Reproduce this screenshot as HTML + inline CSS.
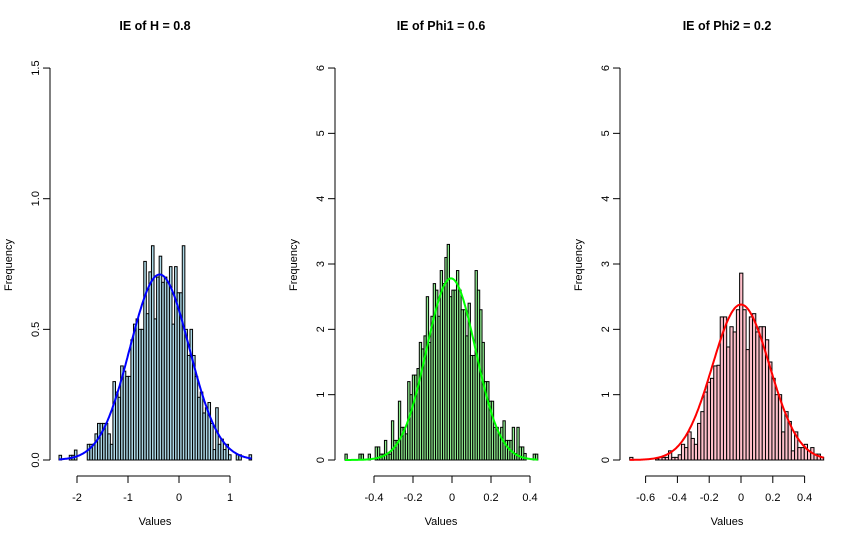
<!DOCTYPE html>
<html><head><meta charset="utf-8"><style>
body{margin:0;background:#fff;width:857px;height:541px;overflow:hidden}
svg{font-family:"Liberation Sans",Arial,sans-serif}
</style></head><body>
<svg id="chart" width="857" height="541"></svg>
<script>
// Panel 1: IE of H
const p1Values=[0.018,0,0,0,0.018,0.018,0.038,0,0,0,0,0.06,0.06,0.06,0.1,0.14,0.14,0.14,0.14,0.1,0.06,0.3,0.26,0.24,0.36,0.34,0.32,0.32,0.46,0.52,0.54,0.5,0.5,0.76,0.56,0.72,0.82,
0.54,0.7,0.78,0.68,0.7,0.68,0.74,0.52,0.74,0.64,0.64,0.82,0.5,0.4,0.5,0.4,0.32,0.24,0.26,0.18,0.2,0.22,0.14,0.04,0.2,0.06,0.08,0.04,0.06,0.02,0,0,0.02,0.02,0,0,0,0.02];
const p1Range=[-2.353,1.424];
const p1Curve=[-0.38,0.58,0.71];
const p1XTicks=[-2,-1,0,1];
const p1YTicks=[0,0.5,1.0,1.5];
const p1YLabels=["0.0","0.5","1.0","1.5"];
// Panel 2: IE of Phi1
const p2Values=[0.09,0,0,0,0,0,0.09,0.09,0,0,0.09,0,0,0.2,0.2,0.09,0.09,0.3,0.09,0.09,0.6,0.3,0.3,0.9,0.5,0.5,0.4,1.2,1.0,1.3,1.3,1.4,1.8,1.7,1.9,2.5,1.8,2.2,2.7,2.6,2.2,2.9,2.7,3.1,3.3,2.5,2.6,2.6,2.9,2.6,2.3,2.3,1.9,2.4,1.6,1.6,2.9,2.6,2.3,1.8,1.2,1.2,0.9,0.9,0.5,0.5,0.4,0.5,0.6,0.3,0.3,0.3,0.5,0.1,0.5,0.2,0.2,0.1,0,0,0,0.09,0.09];
const p2Range=[-0.549,0.44];
const p2Curve=[-0.005,0.126,2.78];
const p2XTicks=[-0.4,-0.2,0,0.2,0.4];
const p2YTicks=[0,1,2,3,4,5,6];
// Panel 3: IE of Phi2
const p3Values=[0.04,0,0,0,0,0,0,0,0.02,0.04,0.04,0.04,0.14,0.04,0.04,0.08,0.24,0.19,0.43,0.33,0.24,0.56,0.74,1.04,1.19,1.25,1.44,1.45,2.19,2.19,1.73,2.04,1.96,2.3,2.86,2.3,1.69,2.19,2.24,1.96,2.04,2.04,1.84,1.5,1.25,1.0,1.0,0.43,0.74,0.59,0.14,0.43,0.19,0.19,0.24,0.14,0.19,0.09,0.09,0.04];
const p3Range=[-0.70,0.52];
const p3Curve=[0.0,0.18,2.38];
const p3XTicks=[-0.6,-0.4,-0.2,0,0.2,0.4];
const p3YTicks=[0,1,2,3,4,5,6];

const NS="http://www.w3.org/2000/svg";
const svg=document.getElementById('chart');
function mk(t,a,p){const e=document.createElementNS(NS,t);for(const k in a)e.setAttribute(k,a[k]);(p||svg).appendChild(e);return e;}

function panel(cfg){
  const g=mk('g',{});
  
  
  const X=v=>cfg.x0+(v-cfg.xv0)*cfg.xs;
  const Y=v=>460-v*cfg.ys;
  const t=mk('text',{x:cfg.tx,y:30,'text-anchor':'middle','font-size':'12.5','font-weight':'bold'},g);
  t.textContent=cfg.title;
  
  
  const n=cfg.values.length, w=(cfg.range[1]-cfg.range[0])/n;
  const bars=mk('g',{},g);
  
  
  cfg.values.forEach((v,i)=>{
    const a=X(cfg.range[0]+i*w), b=X(cfg.range[0]+(i+1)*w);
    const r=mk('rect',{x:a,y:Y(v),width:b-a,height:v*cfg.ys,fill:cfg.fill,stroke:'#000','stroke-width':1},bars);
    
    
  });
  let d='';
  const [m,s,pk]=cfg.curve;
  for(let k=0;k<=200;k++){const xv=cfg.range[0]+(cfg.range[1]-cfg.range[0])*k/200;const yv=pk*Math.exp(-(xv-m)*(xv-m)/(2*s*s));d+=(k?'L':'M')+X(xv).toFixed(1)+' '+Y(yv).toFixed(1);}
  const c=mk('path',{d:d,fill:'none',stroke:cfg.line,'stroke-width':2},g);
  
  
  const ya=mk('g',{},g);
  
  
  const yt=cfg.yticks;
  mk('line',{x1:cfg.ax,x2:cfg.ax,y1:Y(yt[0]),y2:Y(yt[yt.length-1]),stroke:'#000'},ya);
  yt.forEach((v,i)=>{
    mk('line',{x1:cfg.ax-7,x2:cfg.ax,y1:Y(v),y2:Y(v),stroke:'#000'},ya);
    const l=mk('text',{x:0,y:0,'font-size':'11','text-anchor':'middle',transform:`translate(${cfg.ax-11},${Y(v)}) rotate(-90)`},ya);
    l.textContent=cfg.ylabels?cfg.ylabels[i]:String(v);
    
    
  });
  const yl=mk('text',{x:0,y:0,'font-size':'11','text-anchor':'middle',transform:`translate(${cfg.ax-38},265) rotate(-90)`},g);
  yl.textContent='Frequency';
  
  
  const xa=mk('g',{},g);
  
  
  const xt=cfg.xticks;
  mk('line',{x1:X(xt[0]),x2:X(xt[xt.length-1]),y1:476,y2:476,stroke:'#000'},xa);
  xt.forEach(v=>{
    mk('line',{x1:X(v),x2:X(v),y1:476,y2:483,stroke:'#000'},xa);
    const l=mk('text',{x:X(v),y:501,'font-size':'11','text-anchor':'middle'},xa);
    l.textContent=String(v);
    
    
  });
  const xl=mk('text',{x:cfg.tx,y:525,'font-size':'11','text-anchor':'middle'},g);
  xl.textContent='Values';
  
  
}
panel({name:'panel-h',title:'IE of H = 0.8',tx:155,ax:50,x0:179,xv0:0,xs:51,ys:261.3,values:p1Values,range:p1Range,curve:p1Curve,xticks:p1XTicks,yticks:p1YTicks,ylabels:p1YLabels,fill:'#add8e6',line:'#0000ff'});
panel({name:'panel-phi1',title:'IE of Phi1 = 0.6',tx:441,ax:335,x0:452,xv0:0,xs:195,ys:65.33,values:p2Values,range:p2Range,curve:p2Curve,xticks:p2XTicks,yticks:p2YTicks,fill:'#90ee90',line:'#00ff00'});
panel({name:'panel-phi2',title:'IE of Phi2 = 0.2',tx:727,ax:620,x0:741,xv0:0,xs:159,ys:65.33,values:p3Values,range:p3Range,curve:p3Curve,xticks:p3XTicks,yticks:p3YTicks,fill:'#ffc0cb',line:'#ff0000'});
</script>
</body></html>
